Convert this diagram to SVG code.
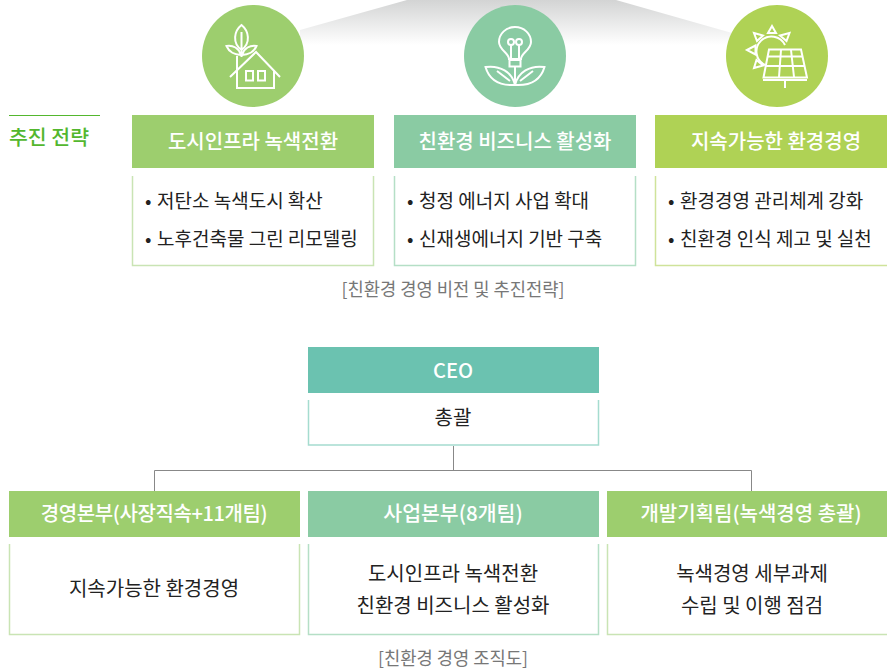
<svg xmlns="http://www.w3.org/2000/svg" width="887" height="670" viewBox="0 0 887 670">
<style>
text{font-family:"Noto Sans CJK KR","Noto Sans",sans-serif}
.h{font-size:20px;font-weight:500;fill:#fff;text-anchor:middle}
.b{font-size:19px;fill:#222}
.o{font-size:20px;fill:#222;text-anchor:middle}
.c{font-size:17.700px;fill:#777;text-anchor:middle}
.i{fill:none;stroke:#fff;stroke-width:2}
</style>
<defs>
<linearGradient id="fan" x1="0" y1="0" x2="0" y2="1"><stop offset="0" stop-color="#d3d4d4"/><stop offset="1" stop-color="#fff"/></linearGradient>
</defs>
<polygon id="fan-shape" points="300,30 407,0 616,0 732,33 732,45 300,45" fill="url(#fan)"/>

<g id="icon-city">
<circle cx="253" cy="56" r="51" fill="#9dce6e"/>
<g class="i">
<path d="M237,56 V88 H274 V70"/>
<path d="M230,77 L256,52 L280,77"/>
<rect x="246" y="71" width="7" height="9.500"/><rect x="258" y="71" width="7" height="9.500"/>
<path d="M241.500,50 C232,43 234,31 241.500,25 C249,31 251,43 241.500,50 Z M241.500,32 V57"/>
<path d="M241,55 C235,55 229,52 226.500,46 C233,45 239,48 241,55 Z M242,55 C248,55 254,52 256.500,46 C250,45 244,48 242,55 Z"/>
</g></g>

<g id="icon-bulb">
<circle cx="515" cy="56" r="51" fill="#8acba3"/>
<g class="i">
<path d="M509,59 C509,53 499,50 499,42 A16,15 0 0 1 531,42 C531,50 521,53 521,59 Z"/>
<rect x="509.500" y="60" width="11" height="6.500"/>
<path d="M511,59 V45 M519,59 V45"/>
<circle cx="511" cy="42" r="3"/><circle cx="519" cy="42" r="3"/>
<path d="M515,67 V85"/>
<path d="M515,85 C498,86 489,79 485.500,67 C500,65 512,72 515,85 Z M515,85 C532,86 541,79 544.500,67 C530,65 518,72 515,85 Z"/>
<path d="M497,71 L510,81 M533,71 L520,81"/>
</g></g>

<g id="icon-solar">
<circle cx="777" cy="56" r="51" fill="#afd255"/>
<g class="i">
<path d="M785,45 A15,15 0 1 0 765,65"/>
<path d="M769,49.500 H801 L807,77.500 H763.500 Z"/>
<path d="M768,56.500 H803 M766,66 H805 M781,50 L779,77 M791,50 L794,77"/>
<path d="M763,80 H807 M785,80 V88"/>
<path d="M772,26 L776,33 H768 Z M754,33 L763,35.500 L757,41 Z M789.500,33 L780,35.500 L786.500,41 Z M747,50 L755.500,45.500 V54.500 Z M754,68 L756.500,60 L763,65.500 Z"/>
</g></g>

<g id="label-strategy">
<path d="M9,115.500 H100" stroke="#53b72e" stroke-width="1"/>
<text x="9" y="145" font-size="20.500" font-weight="500" fill="#53b72e">추진 전략</text>
</g>

<g id="strategy-1">
<rect x="132" y="115" width="242" height="53" fill="#9dce6e"/>
<text class="h" x="253" y="149">도시인프라 녹색전환</text>
<path d="M132.500,176 V265.500 H373.500 V176" fill="none" stroke="#c9e4b4" stroke-width="1.500"/>
<text class="b" x="145" y="208">•</text><text class="b" x="157" y="208">저탄소 녹색도시 확산</text>
<text class="b" x="145" y="246">•</text><text class="b" x="157" y="246">노후건축물 그린 리모델링</text>
</g>
<g id="strategy-2">
<rect x="394" y="115" width="242" height="53" fill="#8acba3"/>
<text class="h" x="515" y="149">친환경 비즈니스 활성화</text>
<path d="M394.500,176 V265.500 H635.500 V176" fill="none" stroke="#b5dfc6" stroke-width="1.500"/>
<text class="b" x="407" y="208">•</text><text class="b" x="419" y="208">청정 에너지 사업 확대</text>
<text class="b" x="407" y="246">•</text><text class="b" x="419" y="246">신재생에너지 기반 구축</text>
</g>
<g id="strategy-3">
<rect x="655" y="115" width="232" height="53" fill="#afd255"/>
<text class="h" x="776" y="149">지속가능한 환경경영</text>
<path d="M655.500,176 V265.500 H887" fill="none" stroke="#cfe39a" stroke-width="1.500"/>
<text class="b" x="668" y="208">•</text><text class="b" x="680" y="208">환경경영 관리체계 강화</text>
<text class="b" x="668" y="246">•</text><text class="b" x="680" y="246">친환경 인식 제고 및 실천</text>
</g>
<text id="caption-1" class="c" x="453" y="296">[친환경 경영 비전 및 추진전략]</text>

<g id="connectors" fill="none" stroke="#888" stroke-width="1">
<path d="M453.500,446 V470.500 M154.500,491 V470.500 H751.500 V491"/>
</g>

<g id="ceo">
<rect x="308" y="347" width="291" height="46" fill="#6bc2b0"/>
<text class="h" x="453" y="378">CEO</text>
<path d="M308.500,400 V445 H598.500 V400" fill="none" stroke="#a5dccf" stroke-width="1.500"/>
<text class="o" x="453" y="425">총괄</text>
</g>
<g id="org-1">
<rect x="9" y="491" width="291" height="46" fill="#9dce6e"/>
<text class="h" x="154" y="521" letter-spacing="-0.400">경영본부(사장직속+11개팀)</text>
<path d="M9.500,544 V634.500 H299.500 V544" fill="none" stroke="#c9e4b4" stroke-width="1.500"/>
<text class="o" x="154" y="596">지속가능한 환경경영</text>
</g>
<g id="org-2">
<rect x="308" y="491" width="291" height="46" fill="#8acba3"/>
<text class="h" x="453" y="521" style="font-size:20.500px">사업본부(8개팀)</text>
<path d="M308.500,544 V634.500 H598.500 V544" fill="none" stroke="#b5dfc6" stroke-width="1.500"/>
<text class="o" x="453" y="581">도시인프라 녹색전환</text>
<text class="o" x="453" y="613">친환경 비즈니스 활성화</text>
</g>
<g id="org-3">
<rect x="607" y="491" width="280" height="46" fill="#9dce6e"/>
<text class="h" x="751" y="521">개발기획팀(녹색경영 총괄)</text>
<path d="M607.500,544 V634.500 H887" fill="none" stroke="#c9e4b4" stroke-width="1.500"/>
<text class="o" x="752" y="581">녹색경영 세부과제</text>
<text class="o" x="752" y="613">수립 및 이행 점검</text>
</g>
<text id="caption-2" class="c" x="453" y="665">[친환경 경영 조직도]</text>
</svg>
